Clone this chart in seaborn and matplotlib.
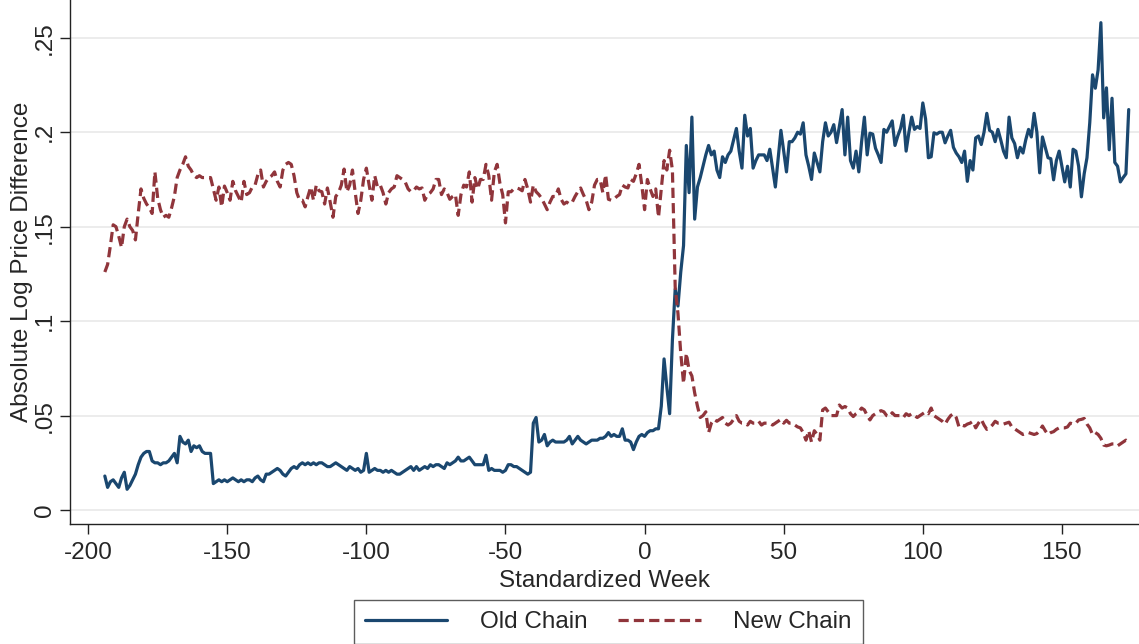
import numpy as np
import pandas as pd
import matplotlib
matplotlib.use("Agg")
import matplotlib.pyplot as plt
import seaborn as sns

first_week = -194

old_chain = [
    .018, .012, .015, .016, .014, .012, .017, .020, .011, .013,
    .016, .019, .024, .028, .030, .031, .031, .026, .025, .025, .024,
    .025, .025, .026, .028, .030, .025, .039, .036, .035, .037,
    .031, .034, .033, .034, .031, .030, .030, .030, .014, .015, .016,
    .015, .016, .015, .016, .017, .016, .015, .016, .015, .016,
    .016, .015, .017, .018, .016, .015, .019, .019, .020, .021, .022,
    .021, .019, .018, .020, .022, .023, .022, .024, .025, .024,
    .025, .024, .025, .024, .025, .025, .024, .023, .023, .024, .025,
    .024, .023, .022, .021, .023, .022, .021, .022, .020, .021,
    .030, .020, .021, .022, .021, .021, .020, .021, .020, .021, .020,
    .019, .019, .020, .021, .022, .023, .021, .023, .021, .022,
    .023, .022, .024, .023, .024, .024, .023, .022, .025, .024,
    .025, .026, .028, .026, .026, .027, .028, .026, .024, .024, .024,
    .024, .029, .021, .022, .021, .021, .021, .020, .021, .024,
    .024, .023, .023, .022, .021, .020, .019, .020, .046, .049, .036,
    .037, .040, .034, .036, .037, .036, .036, .036, .036, .037,
    .039, .035, .037, .039, .037, .036, .035, .036, .037, .037, .037,
    .038, .038, .039, .041, .039, .040, .039, .039, .043, .037,
    .037, .036, .032, .036, .039, .040, .039, .041, .042, .042, .043,
    .043, .055, .080, .065, .051, .090, .117, .108, .126, .140,
    .193, .168, .208, .154, .171, .176, .182, .188, .193, .188, .190,
    .180, .176, .187, .184, .188, .190, .196, .202, .190, .181,
    .209, .198, .202, .181, .185, .188, .188, .188, .185, .191, .181,
    .171, .186, .201, .190, .179, .195, .195, .197, .200, .199,
    .205, .188, .182, .175, .189, .184, .179, .195, .205, .198, .200,
    .204, .1945, .203, .212, .188, .208, .185, .181, .190, .179,
    .195, .208, .188, .1995, .199, .1915, .188, .184, .2015, .200, .203,
    .206, .193, .198, .202, .209, .190, .200, .208, .2015, .203,
    .202, .2155, .207, .1865, .187, .1997, .199, .200, .200, .1944, .198,
    .201, .192, .189, .187, .184, .190, .174, .185, .180, .197,
    .198, .1935, .200, .210, .201, .200, .195, .2015, .196, .190, .1865,
    .208, .197, .194, .1865, .192, .189, .196, .2015, .1975, .210,
    .200, .1785, .1975, .192, .1865, .186, .1748, .185, .190, .182, .1737,
    .182, .171, .191, .190, .182, .1658, .178, .1865, .205, .2304,
    .2233, .233, .258, .2076, .2235, .1907, .218, .184, .182, .1737,
    .176, .178, .212,
]

new_chain = [
    .126, .130, .140, .151, .150, .145, .139, .150, .154, .150,
    .148, .143, .157, .170, .165, .162, .160, .157, .179, .165, .159,
    .155, .156, .155, .160, .166, .176, .180, .183, .187, .182,
    .180, .177, .176, .177, .176, .176, .176, .176, .170, .164, .171,
    .1605, .1715, .168, .164, .174, .169, .166, .163, .174, .167,
    .168, .171, .172, .1775, .180, .171, .174, .176, .177, .179, .174,
    .171, .180, .183, .184, .183, .177, .168, .164, .164, .1605,
    .166, .171, .164, .172, .169, .1685, .162, .1705, .163, .155, .166,
    .168, .172, .1805, .1685, .172, .180, .168, .157, .164, .175,
    .181, .172, .164, .177, .171, .172, .168, .162, .168, .170, .171,
    .177, .176, .175, .1735, .170, .1685, .169, .171, .170, .1705,
    .164, .167, .168, .170, .175, .175, .167, .170, .168, .1645,
    .166, .167, .156, .167, .172, .171, .179, .163, .176, .170, .175,
    .175, .183, .177, .164, .179, .183, .173, .167, .152, .1685,
    .1685, .170, .1705, .170, .169, .175, .170, .163, .172, .1685, .167,
    .165, .162, .159, .163, .166, .166, .170, .1645, .162, .163,
    .162, .163, .166, .1685, .1705, .167, .164, .159, .163, .172, .175,
    .175, .168, .1775, .1645, .164, .1645, .166, .167, .172, .171,
    .1705, .175, .174, .178, .183, .172, .159, .175, .170, .166, .170,
    .155, .170, .185, .180, .1905, .180, .118, .104, .083, .067,
    .083, .074, .071, .062, .055, .049, .050, .052, .041, .046, .048,
    .047, .048, .049, .046, .045, .046, .048, .050, .047, .046,
    .046, .045, .047, .046, .046, .047, .045, .046, .046, .046, .045,
    .046, .047, .048, .046, .0475, .046, .046, .045, .044, .0435,
    .041, .037, .042, .036, .042, .040, .037, .053, .054, .052, .050,
    .050, .050, .0556, .054, .0548, .054, .051, .0495, .051, .052,
    .054, .053, .050, .0477, .050, .051, .052, .0526, .052, .050, .0495,
    .0515, .050, .050, .050, .049, .051, .050, .051, .050, .049,
    .050, .051, .052, .051, .054, .050, .049, .048, .047, .0455, .048,
    .050, .051, .049, .044, .045, .0445, .0455, .046, .047, .0435,
    .046, .048, .045, .0427, .0435, .045, .047, .046, .046, .0455, .046,
    .0465, .044, .043, .042, .041, .040, .0405, .041, .0405, .040,
    .0405, .042, .0445, .042, .040, .041, .0415, .0427, .0435, .0435, .0435,
    .044, .046, .0455, .046, .0477, .048, .0485, .0455, .0435, .040,
    .041, .040, .038, .0344, .034, .0344, .035, .035, .034, .035,
    .036, .037, .036,
]

x_ticks = [-200, -150, -100, -50, 0, 50, 100, 150]
y_ticks = [0, .05, .1, .15, .2, .25]
y_tick_labels = ["0", ".05", ".1", ".15", ".2", ".25"]
series_names = ["Old Chain", "New Chain"]

weeks_old = np.arange(first_week, first_week + len(old_chain))
weeks_new = np.arange(first_week, first_week + len(new_chain))
df_old = pd.DataFrame({"week": weeks_old, "value": old_chain})
df_new = pd.DataFrame({"week": weeks_new, "value": new_chain})

sns.set_theme(style="white")
plt.rcParams["font.family"] = ["Liberation Sans", "DejaVu Sans"]

BLUE = "#1a476f"
RED = "#90353b"
FS = 17.5

fig = plt.figure(figsize=(11.39, 6.44), dpi=100)
ax = fig.add_axes([0.0615, 0.1863, 0.9385, 0.8137])

sns.lineplot(data=df_old, x="week", y="value", ax=ax, color=BLUE, lw=2.3,
             label=series_names[0])
sns.lineplot(data=df_new, x="week", y="value", ax=ax, color=RED, lw=2.3,
             label=series_names[1])
ax.lines[1].set_dashes([3.2, 1.6])

ax.set_xlim(-206.5, 177.7)
ax.set_ylim(-0.0074, 0.270)
ax.set_xticks(x_ticks)
ax.set_xticklabels([str(t) for t in x_ticks], fontsize=FS)
ax.set_yticks(y_ticks)
ax.set_yticklabels(y_tick_labels, fontsize=FS, rotation=90, va="center")
ax.grid(axis="y", color="#eaeaea", lw=1.3)
ax.grid(axis="x", visible=False)
for s in ["top", "right"]:
    ax.spines[s].set_visible(False)
for s in ["left", "bottom"]:
    ax.spines[s].set_color("#222222")
    ax.spines[s].set_linewidth(1.0)
ax.tick_params(axis="both", direction="out", length=7, width=1, color="#222222",
               left=True, bottom=True, pad=3)
ax.tick_params(axis="x", pad=6)
ax.set_xlabel("Standardized Week", fontsize=FS, labelpad=4)
ax.set_ylabel("Absolute Log Price Difference", fontsize=FS, labelpad=1)

ax.get_legend().remove()
handles, labels = ax.get_legend_handles_labels()
handles[1].set_dashes([3.2, 1.6])
leg = fig.legend(handles, labels, loc="upper center", bbox_to_anchor=(0.534, 0.087),
                 ncol=2, fontsize=FS, frameon=True, fancybox=False,
                 handlelength=3.4, handletextpad=1.35, columnspacing=1.25,
                 borderpad=0.45)
leg.get_frame().set_edgecolor("#333333")
leg.get_frame().set_linewidth(1.0)

fig.savefig("out.png", dpi=100)
